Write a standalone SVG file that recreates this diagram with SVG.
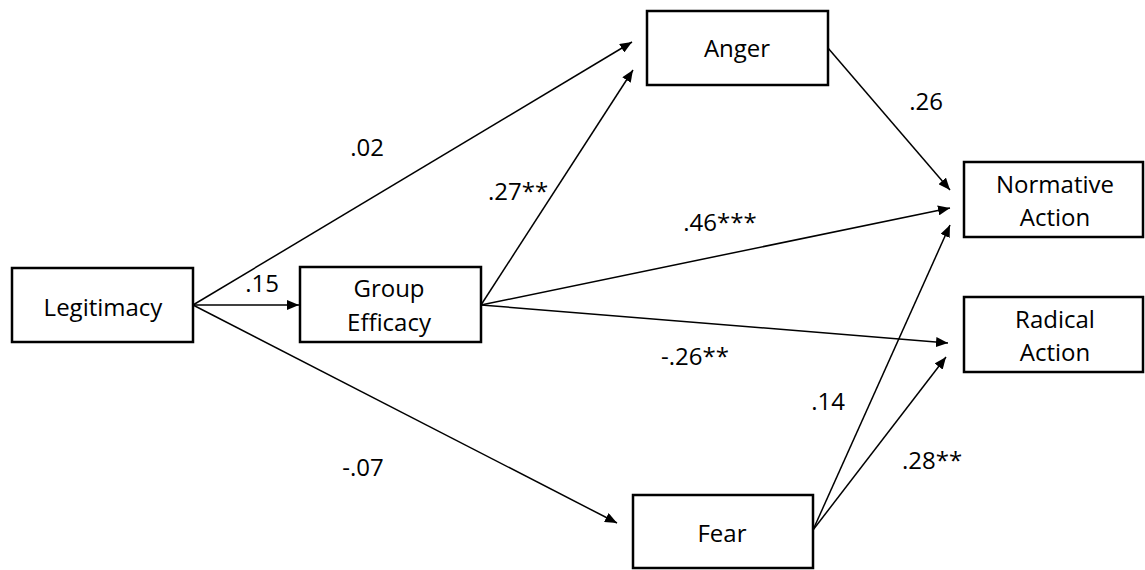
<svg xmlns="http://www.w3.org/2000/svg" width="1145" height="570" viewBox="0 0 1145 570">
<style>
.box{fill:#fff;stroke:#000;stroke-width:2.5}
.t{font-family:"Open Sans","Liberation Sans",sans-serif;font-size:24px;fill:#000;text-anchor:middle}
.c{stroke:#000;stroke-width:1.5;fill:none;marker-end:url(#ah)}
</style>
<defs>
<marker id="ah" viewBox="0 0 12 10" refX="12" refY="5" markerWidth="12" markerHeight="10" markerUnits="userSpaceOnUse" orient="auto">
<path d="M0,0 L12,5 L0,10 z" fill="#000"/>
</marker>
</defs>
<g id="connectors">
<line class="c" x1="193" y1="305" x2="632" y2="42"/>
<line class="c" x1="193" y1="305" x2="299" y2="305"/>
<line class="c" x1="193" y1="305" x2="617" y2="523"/>
<line class="c" x1="481" y1="305" x2="633" y2="70"/>
<line class="c" x1="481" y1="305" x2="950" y2="208"/>
<line class="c" x1="481" y1="305" x2="948" y2="343"/>
<line class="c" x1="828" y1="48" x2="950" y2="190"/>
<line class="c" x1="813" y1="530" x2="950" y2="225"/>
<line class="c" x1="813" y1="530" x2="946" y2="357"/>
</g>
<g id="labels">
<text class="t" x="367" y="156">.02</text>
<text class="t" x="262" y="292">.15</text>
<text class="t" x="518" y="200">.27**</text>
<text class="t" x="720" y="231">.46***</text>
<text class="t" x="695" y="365">-.26**</text>
<text class="t" x="926" y="110">.26</text>
<text class="t" x="828" y="410">.14</text>
<text class="t" x="932" y="469">.28**</text>
<text class="t" x="363" y="476">-.07</text>
</g>
<g id="legitimacy">
<rect class="box" x="12" y="268" width="181" height="74"/>
<text class="t" x="103" y="316">Legitimacy</text>
</g>
<g id="group-efficacy">
<rect class="box" x="300" y="267" width="181" height="75"/>
<text class="t" x="389" y="297">Group</text>
<text class="t" x="389" y="331">Efficacy</text>
</g>
<g id="anger">
<rect class="box" x="647" y="11" width="181" height="74"/>
<text class="t" x="737" y="57">Anger</text>
</g>
<g id="normative-action">
<rect class="box" x="964" y="162" width="179" height="75"/>
<text class="t" x="1055" y="193">Normative</text>
<text class="t" x="1055" y="226">Action</text>
</g>
<g id="radical-action">
<rect class="box" x="964" y="297" width="179" height="75"/>
<text class="t" x="1055" y="328">Radical</text>
<text class="t" x="1055" y="361">Action</text>
</g>
<g id="fear">
<rect class="box" x="633" y="495" width="180" height="73"/>
<text class="t" x="722" y="542">Fear</text>
</g>
</svg>
